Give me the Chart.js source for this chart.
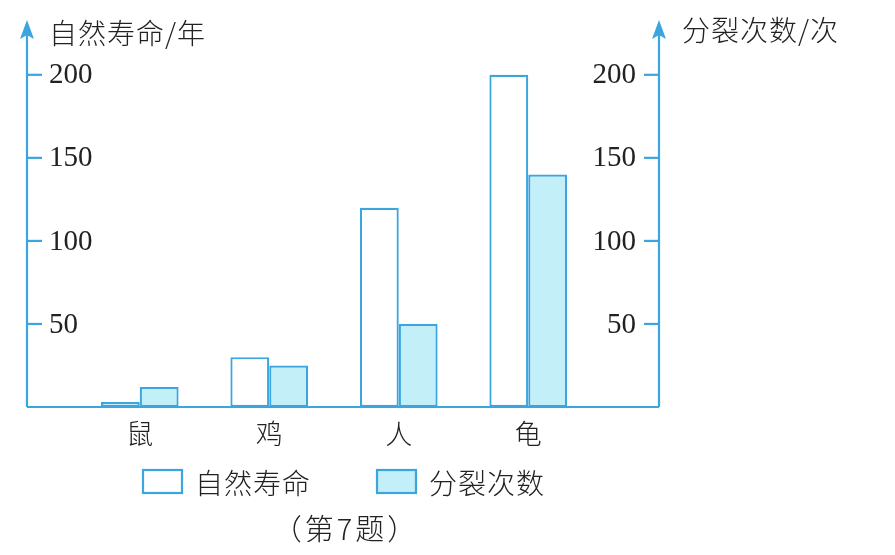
<!DOCTYPE html>
<html>
<head>
<meta charset="utf-8">
<script src="https://cdn.jsdelivr.net/npm/chart.js@4"></script>
<style>
html,body{margin:0;padding:0;background:#fff;}
#wrap{width:895px;height:555px;}
</style>
</head>
<body>
<div id="wrap"><canvas id="c" width="895" height="555"></canvas></div>
<script>
const categories = ['鼠', '鸡', '人', '龟'];
const lifespan = [3, 30, 120, 200];        // 自然寿命/年
const divisions = [12, 25, 50, 140];       // 分裂次数/次
const tickValues = [50, 100, 150, 200];
const seriesNames = ['自然寿命', '分裂次数'];
const leftTitle = '自然寿命/年';
const rightTitle = '分裂次数/次';
const caption = '（第7题）';

const BLUE = '#3ba5df';
const FILL = '#c3eff9';
const CJK = '"Noto Sans CJK SC"';
const NUM = '"Liberation Serif", "Times New Roman", serif';

const overlay = {
  id: 'overlay',
  afterDatasetsDraw(chart) {
    const ctx = chart.ctx;
    const ca = chart.chartArea;
    const yL = chart.scales.y;
    const yR = chart.scales.y1;
    const xS = chart.scales.x;
    const leftX = ca.left - 48;
    const rightX = ca.right + 66;
    const baseY = yL.getPixelForValue(0);
    const topY = ca.top;
    ctx.save();
    ctx.strokeStyle = BLUE;
    ctx.fillStyle = BLUE;
    ctx.lineWidth = 2.2;
    // baseline
    ctx.beginPath();
    ctx.moveTo(leftX, baseY);
    ctx.lineTo(rightX, baseY);
    ctx.stroke();
    // vertical axes with arrows
    [leftX, rightX].forEach(ax => {
      ctx.beginPath();
      ctx.moveTo(ax, baseY);
      ctx.lineTo(ax, topY + 10);
      ctx.stroke();
      ctx.beginPath();
      ctx.moveTo(ax, topY);
      ctx.lineTo(ax - 7, topY + 19);
      ctx.lineTo(ax, topY + 15);
      ctx.lineTo(ax + 7, topY + 19);
      ctx.closePath();
      ctx.fill();
    });
    // ticks
    ctx.font = '29px ' + NUM;
    ctx.textBaseline = 'middle';
    tickValues.forEach(v => {
      const py = yL.getPixelForValue(v);
      ctx.beginPath();
      ctx.moveTo(leftX, py);
      ctx.lineTo(leftX + 15, py);
      ctx.stroke();
      const pr = yR.getPixelForValue(v);
      ctx.beginPath();
      ctx.moveTo(rightX, pr);
      ctx.lineTo(rightX - 15, pr);
      ctx.stroke();
      ctx.fillStyle = '#222';
      ctx.textAlign = 'left';
      ctx.fillText(String(v), leftX + 22, py + 1);
      ctx.textAlign = 'right';
      ctx.fillText(String(v), rightX - 23, pr + 1);
      ctx.fillStyle = BLUE;
    });
    // axis titles
    ctx.fillStyle = '#222';
    ctx.font = '300 28px ' + CJK;
    ctx.textAlign = 'left';
    ctx.textBaseline = 'middle';
    ctx.letterSpacing = '1px';
    ctx.fillText(leftTitle, leftX + 22, topY + 13);
    ctx.fillText(rightTitle, rightX + 23, topY + 10);
    ctx.letterSpacing = '0px';
    // category labels
    ctx.font = '300 27px ' + CJK;
    ctx.textAlign = 'center';
    categories.forEach((c, i) => {
      ctx.fillText(c, xS.getPixelForValue(i), baseY + 27);
    });
    // legend
    const legY = baseY + 63;
    const items = [
      {x: leftX + 116, fill: '#ffffff', label: seriesNames[0]},
      {x: leftX + 350, fill: FILL, label: seriesNames[1]}
    ];
    items.forEach(it => {
      ctx.fillStyle = it.fill;
      ctx.fillRect(it.x, legY, 39, 23);
      ctx.strokeStyle = BLUE;
      ctx.lineWidth = 2.2;
      ctx.strokeRect(it.x, legY, 39, 23);
      ctx.fillStyle = '#222';
      ctx.textAlign = 'left';
      ctx.font = '300 28px ' + CJK;
      ctx.letterSpacing = '1px';
      ctx.fillText(it.label, it.x + 52, legY + 13);
      ctx.letterSpacing = '0px';
    });
    // caption
    ctx.textAlign = 'center';
    ctx.font = '300 29px ' + CJK;
    ctx.letterSpacing = '3px';
    ctx.fillText(caption, 346, baseY + 122);
    ctx.letterSpacing = '0px';
    ctx.restore();
  }
};

new Chart(document.getElementById('c'), {
  type: 'bar',
  data: {
    labels: categories,
    datasets: [
      {label: seriesNames[0], data: lifespan, yAxisID: 'y', backgroundColor: '#ffffff', borderColor: BLUE, borderWidth: 2.2, borderSkipped: false},
      {label: seriesNames[1], data: divisions, yAxisID: 'y1', backgroundColor: FILL, borderColor: BLUE, borderWidth: 2.2, borderSkipped: false}
    ]
  },
  options: {
    responsive: false,
    animation: false,
    devicePixelRatio: 1,
    layout: {padding: {left: 75, right: 302, top: 20, bottom: 148}},
    datasets: {bar: {categoryPercentage: 0.6, barPercentage: 1}},
    scales: {
      x: {display: false, offset: true},
      y: {display: false, min: 0, max: 233},
      y1: {display: false, min: 0, max: 233, position: 'right'}
    },
    plugins: {legend: {display: false}, tooltip: {enabled: false}, title: {display: false}}
  },
  plugins: [overlay]
});
</script>
</body>
</html>
